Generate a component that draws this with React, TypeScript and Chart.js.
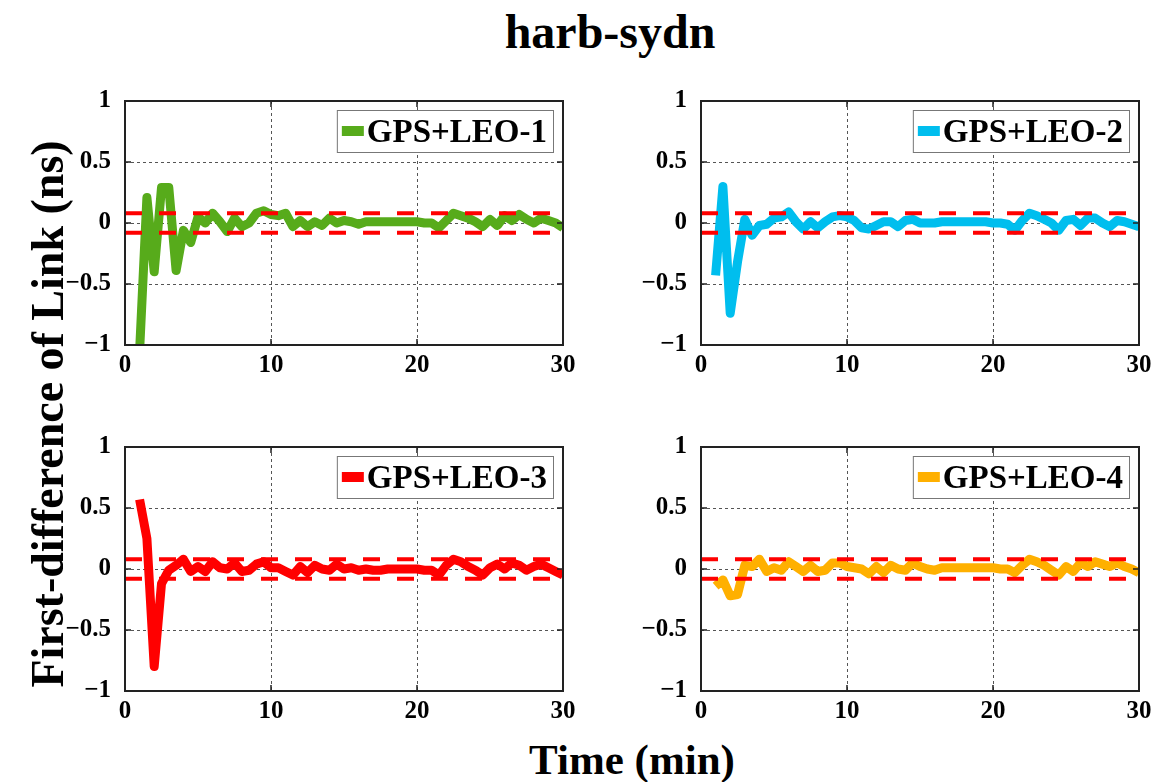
import React, { useEffect, useRef } from "react";
import { Chart, registerables } from "chart.js";

Chart.register(...registerables);

// ---- data ----
const timeMin = [
  1, 1.5, 2, 2.5, 3, 3.5, 4, 4.5, 5, 5.5, 6, 6.5, 7, 7.5, 8, 8.5, 9, 9.5, 10, 10.5,
  11, 11.5, 12, 12.5, 13, 13.5, 14, 14.5, 15, 15.5, 16, 16.5, 17, 17.5, 18, 18.5, 19, 19.5, 20, 20.5,
  21, 21.5, 22, 22.5, 23, 23.5, 24, 24.5, 25, 25.5, 26, 26.5, 27, 27.5, 28, 28.5, 29, 29.5, 30,
];

const leo1 = [
  -1.05, 0.21, -0.4, 0.29, 0.29, -0.39, -0.06, -0.16, 0.05, 0.0, 0.08, 0.01, -0.07, 0.04, -0.03, 0.0, 0.08, 0.1, 0.07, 0.06,
  0.08, -0.03, 0.02, -0.03, 0.01, -0.02, 0.04, 0.0, 0.02, 0.01, -0.01, 0.01, 0.01, 0.01, 0.01, 0.01, 0.01, 0.01, 0.01, 0.0,
  0.0, -0.04, 0.02, 0.08, 0.06, 0.04, 0.01, -0.03, 0.03, -0.02, 0.06, 0.02, 0.07, 0.03, 0.0, 0.04, 0.02, 0.0, -0.04,
];

const leo2 = [
  -0.43, 0.3, -0.74, -0.32, 0.03, -0.1, -0.02, -0.01, 0.04, 0.05, 0.09, 0.01, -0.05, 0.01, -0.04, 0.01, 0.05, 0.06, 0.05, 0.02,
  -0.04, -0.05, -0.02, 0.01, 0.01, -0.03, 0.02, 0.03, 0.0, 0.0, 0.0, 0.01, 0.01, 0.01, 0.01, 0.01, 0.01, 0.01, 0.0, 0.0,
  -0.01, -0.06, 0.02, 0.08, 0.06, 0.03, 0.0, -0.06, 0.02, 0.03, -0.02, 0.04, 0.04, 0.0, -0.03, 0.02, 0.01, -0.01, -0.03,
];

const leo3 = [
  0.57, 0.25, -0.8, -0.12, -0.01, 0.03, 0.08, -0.02, 0.02, -0.02, 0.06, 0.01, 0.0, 0.05, -0.02, -0.01, 0.04, 0.06, 0.01, 0.01,
  -0.02, -0.05, 0.02, -0.03, 0.03, 0.0, -0.01, 0.04, 0.0, 0.01, -0.01, 0.0, -0.01, -0.01, 0.0, 0.0, 0.0, 0.0, 0.0, -0.01,
  -0.01, -0.05, 0.03, 0.08, 0.06, 0.02, -0.01, -0.05, 0.01, 0.04, 0.0, 0.05, 0.03, -0.01, 0.02, 0.04, 0.01, -0.02, -0.05,
];

const leo4 = [
  -0.14, -0.09, -0.22, -0.21, 0.03, 0.02, 0.08, -0.02, 0.01, -0.01, 0.06, 0.02, -0.02, 0.03, -0.02, -0.01, 0.05, 0.05, 0.02, 0.01,
  0.0, -0.04, 0.02, -0.03, 0.03, 0.0, -0.01, 0.05, 0.02, 0.0, -0.01, 0.01, 0.01, 0.01, 0.01, 0.01, 0.01, 0.01, 0.01, 0.0,
  0.0, -0.03, 0.03, 0.08, 0.06, 0.03, -0.01, -0.05, 0.02, -0.02, 0.05, 0.02, 0.06, 0.04, 0.02, 0.05, 0.02, 0.0, -0.03,
];

const seriesLabels = ["GPS+LEO-1", "GPS+LEO-2", "GPS+LEO-3", "GPS+LEO-4"];
const seriesColors = ["#57AB1B", "#00BEEE", "#FF0000", "#FFB000"];
const thresholds = [0.08, -0.08];
const xRange = [0, 30];
const yRange = [-1, 1];
const titleText = "harb-sydn";
const xTitle = "Time (min)";
const yTitle = "First-difference of Link (ns)";

// ---- layout ----
const BOX_W = 438;
const BOX_H = 244;
const AX_W = 60;
const AX_H = 40;
const PAD_T = 20;
const PAD_R = 16;
const panelBoxes = [
  { left: 125, top: 101 },
  { left: 701, top: 101 },
  { left: 125, top: 447 },
  { left: 701, top: 447 },
];

const FONT = "'Liberation Serif', 'Times New Roman', serif";
Chart.defaults.font.family = FONT;

const fmtTick = (v: number) => {
  const r = Math.round(v * 10) / 10;
  return r < 0 ? "\u2212" + String(-r) : String(r);
};

const framePlugin = {
  id: "frameAndLegend",
  afterDatasetsDraw(chart: any) {
    const { ctx, chartArea, scales } = chart;
    const { left, right, top, bottom } = chartArea;
    ctx.save();
    // inward tick marks
    ctx.strokeStyle = "#222";
    ctx.lineWidth = 1.5;
    ctx.setLineDash([]);
    const tl = 6;
    scales.x.ticks.forEach((t: any) => {
      const px = scales.x.getPixelForValue(t.value);
      ctx.beginPath();
      ctx.moveTo(px, bottom);
      ctx.lineTo(px, bottom - tl);
      ctx.moveTo(px, top);
      ctx.lineTo(px, top + tl);
      ctx.stroke();
    });
    scales.y.ticks.forEach((t: any) => {
      const py = scales.y.getPixelForValue(t.value);
      ctx.beginPath();
      ctx.moveTo(left, py);
      ctx.lineTo(left + tl, py);
      ctx.moveTo(right, py);
      ctx.lineTo(right - tl, py);
      ctx.stroke();
    });
    // box
    ctx.lineWidth = 2;
    ctx.strokeStyle = "#222";
    ctx.strokeRect(left, top, right - left, bottom - top);

    // legend (first dataset)
    const ds = chart.data.datasets[0];
    ctx.font = `bold 33px ${FONT}`;
    const tw = ctx.measureText(ds.label).width;
    const bw = 5 + 22 + 3 + tw + 6;
    const bh = 42;
    const bx = right - 10 - bw;
    const by = top + 9;
    ctx.fillStyle = "#fff";
    ctx.fillRect(bx, by, bw, bh);
    ctx.strokeStyle = "#777";
    ctx.lineWidth = 1;
    ctx.strokeRect(bx + 0.5, by + 0.5, bw, bh);
    ctx.strokeStyle = ds.borderColor;
    ctx.lineWidth = 10;
    ctx.beginPath();
    ctx.moveTo(bx + 5, by + bh / 2);
    ctx.lineTo(bx + 27, by + bh / 2);
    ctx.stroke();
    ctx.fillStyle = "#000";
    ctx.textBaseline = "middle";
    ctx.textAlign = "left";
    ctx.fillText(ds.label, bx + 30, by + bh / 2 + 2);
    ctx.restore();
  },
};

function Panel({ idx }: { idx: number }) {
  const ref = useRef<HTMLCanvasElement>(null);
  const values = [leo1, leo2, leo3, leo4][idx];
  const box = panelBoxes[idx];
  const cw = AX_W + BOX_W + PAD_R;
  const ch = PAD_T + BOX_H + AX_H;

  useEffect(() => {
    const tickFont = { family: FONT, size: 25, weight: "bold" as const };
    const chart = new Chart(ref.current!, {
      type: "line",
      data: {
        datasets: [
          {
            label: seriesLabels[idx],
            data: timeMin.map((t, i) => ({ x: t, y: values[i] })),
            borderColor: seriesColors[idx],
            backgroundColor: seriesColors[idx],
            borderWidth: 9,
            pointRadius: 0,
            tension: 0,
            borderJoinStyle: "round",
            clip: 0,
            order: 2,
          },
          ...thresholds.map((th) => ({
            label: "threshold",
            data: [
              { x: xRange[0], y: th },
              { x: xRange[1], y: th },
            ],
            borderColor: "#FF0000",
            borderWidth: 4,
            borderDash: [17, 17],
            pointRadius: 0,
            clip: 0,
            order: 1,
          })),
        ],
      },
      options: {
        responsive: false,
        animation: false,
        devicePixelRatio: 1,
        layout: { padding: { top: PAD_T, right: PAD_R, left: 0, bottom: 0 } },
        plugins: { legend: { display: false }, tooltip: { enabled: false } },
        scales: {
          x: {
            type: "linear",
            min: xRange[0],
            max: xRange[1],
            ticks: { stepSize: 10, font: tickFont, color: "#000", padding: 6, maxRotation: 0, callback: (v: any) => fmtTick(v) },
            grid: { color: "#555", lineWidth: 1, drawTicks: false },
            border: { display: false, dash: [3, 3] },
            afterFit: (s: any) => {
              s.height = AX_H;
              s.paddingLeft = 0;
              s.paddingRight = 0;
            },
          },
          y: {
            type: "linear",
            min: yRange[0],
            max: yRange[1],
            ticks: { stepSize: 0.5, font: tickFont, color: "#000", padding: 14, callback: (v: any) => fmtTick(v) },
            grid: { color: "#555", lineWidth: 1, drawTicks: false },
            border: { display: false, dash: [3, 3] },
            afterFit: (s: any) => {
              s.width = AX_W;
              s.paddingTop = 0;
              s.paddingBottom = 0;
            },
          },
        },
      },
      plugins: [framePlugin],
    } as any);
    return () => chart.destroy();
  }, []);

  return (
    <canvas
      ref={ref}
      width={cw}
      height={ch}
      style={{ position: "absolute", left: box.left - AX_W, top: box.top - PAD_T, width: cw, height: ch }}
    />
  );
}

export default function App() {
  const textStyle: React.CSSProperties = {
    position: "absolute",
    fontFamily: FONT,
    fontWeight: "bold",
    color: "#000",
    whiteSpace: "nowrap",
    textAlign: "center",
  };
  return (
    <div style={{ position: "fixed", left: 0, top: 0, width: 1160, height: 782, background: "#fff", overflow: "hidden" }}>
      <div style={{ ...textStyle, fontSize: 48, lineHeight: "48px", left: 310, top: 8, width: 600 }}>{titleText}</div>
      {[0, 1, 2, 3].map((i) => (
        <Panel key={i} idx={i} />
      ))}
      <div style={{ ...textStyle, fontSize: 43, lineHeight: "44px", left: 332, top: 738, width: 600 }}>{xTitle}</div>
      <div
        style={{
          ...textStyle,
          fontSize: 46,
          lineHeight: "46px",
          left: 48,
          top: 414,
          width: 700,
          transform: "translate(-50%, -50%) rotate(-90deg)",
        }}
      >
        {yTitle}
      </div>
    </div>
  );
}
